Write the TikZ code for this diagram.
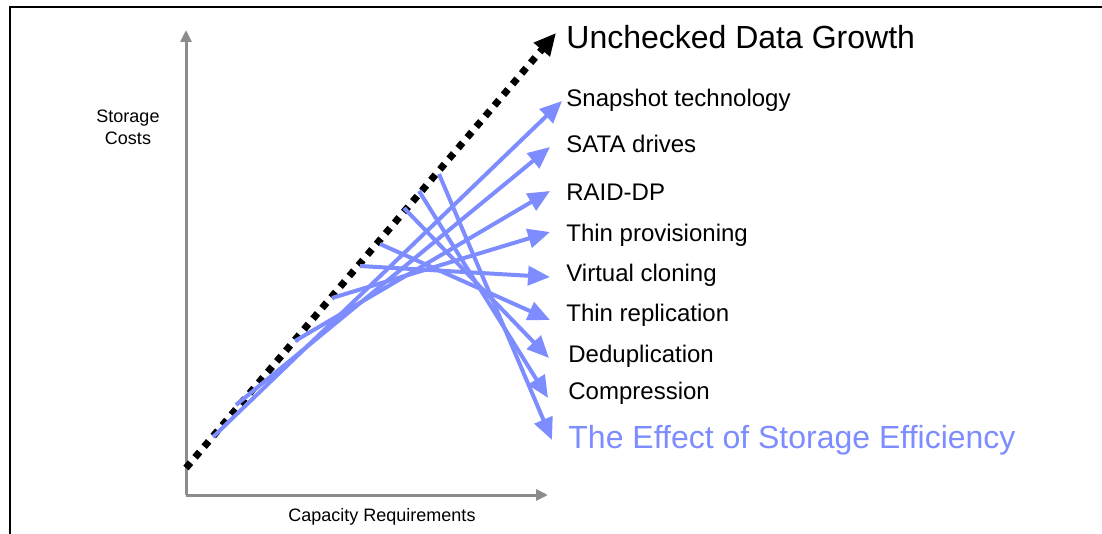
\documentclass[tikz,border=0pt]{standalone}
\usepackage{fontspec}
\setmainfont{Liberation Sans}
\usetikzlibrary{arrows.meta}
\definecolor{effectblue}{RGB}{125,140,255}
\definecolor{axisgray}{RGB}{140,140,140}
\tikzset{
  axis_line/.style = {draw=axisgray, line width=1.5pt, -{Triangle[length=6pt,width=5.5pt]}},
  growth_line/.style = {draw=black, line width=3.5pt, dash pattern=on 3.5pt off 3.5pt, -{Triangle[length=11pt,width=10pt]}},
  blue_arrow/.style = {draw=effectblue, line width=2pt, -{Triangle[length=11pt,width=9.5pt]}},
  basenode/.style = {inner sep=0pt, text height=0.72em, text depth=0.2em},
  tech_node/.style = {basenode, anchor=west, font=\fontsize{12}{14}\selectfont},
  big_node/.style = {basenode, anchor=west, font=\fontsize{16}{19}\selectfont},
  axis_label/.style = {align=center, inner sep=0pt, font=\fontsize{9}{11}\selectfont},
}
\begin{document}
\begin{tikzpicture}[x=0.5pt, y=-0.5pt]
    \useasboundingbox (0,0) rectangle (1102,534);
    \draw[line width=0.8pt] (10,534) -- (10,7) -- (1102,7);

    % axes
    \coordinate (origin) at (186,495);
    \coordinate (y_tip) at (186,30);
    \coordinate (x_tip) at (548,495);
    \draw[axis_line] (origin) -- (y_tip);
    \draw[axis_line] (origin) -- (x_tip);
    \node [axis_label] (costs) at (128,127) {Storage\\Costs};
    \node [axis_label] (capacity) at (382,517) {Capacity Requirements};

    % labels
    \node [big_node] (growth) at (566,43) {Unchecked Data Growth};
    \node [tech_node] (snap) at (566,101) {Snapshot technology};
    \node [tech_node] (sata) at (566,147) {SATA drives};
    \node [tech_node] (raid) at (566,195) {RAID-DP};
    \node [tech_node] (thinprov) at (566,236) {Thin provisioning};
    \node [tech_node] (cloning) at (566,276) {Virtual cloning};
    \node [tech_node] (thinrep) at (566,316) {Thin replication};
    \node [tech_node] (dedup) at (568,357) {Deduplication};
    \node [tech_node] (compr) at (568,394) {Compression};
    \node [big_node, text=effectblue] (effect) at (568,443) {The Effect of Storage Efficiency};

    % unchecked growth
    \coordinate (g_start) at (186,468);
    \draw[growth_line] (g_start) -- ([xshift=-5pt,yshift=5pt]growth.west);

    % start points of the savings
    \coordinate (s_snap) at (213,437);
    \coordinate (s_sata) at (236,405);
    \coordinate (s_raid) at (295,341);
    \coordinate (s_thinprov) at (332,298);
    \coordinate (s_cloning) at (360,266);
    \coordinate (s_thinrep) at (380,244);
    \coordinate (s_dedup) at (404,208);
    \coordinate (s_compr) at (419,191);
    \coordinate (s_effect) at (439,174);

    \draw[blue_arrow] (s_snap) -- ([xshift=-2pt]snap.west);
    \draw[blue_arrow] (s_sata) -- ([xshift=-8pt]sata.west);
    \draw[blue_arrow] (s_raid) -- ([xshift=-8pt,yshift=2pt]raid.west);
    \draw[blue_arrow] (s_thinprov) -- ([xshift=-8pt,yshift=2pt]thinprov.west);
    \draw[blue_arrow] (s_cloning) -- ([xshift=-8pt,yshift=-0.5pt]cloning.west);
    \draw[blue_arrow] (s_thinrep) -- ([xshift=-8pt,yshift=-2pt]thinrep.west);
    \draw[blue_arrow] (s_dedup) -- ([xshift=-9.5pt,yshift=-0.5pt]dedup.west);
    \draw[blue_arrow] (s_compr) -- ([xshift=-10pt,yshift=-2pt]compr.west);
    \draw[blue_arrow] (s_effect) -- ([xshift=-8pt,yshift=1.5pt]effect.west);
\end{tikzpicture}
\end{document}
